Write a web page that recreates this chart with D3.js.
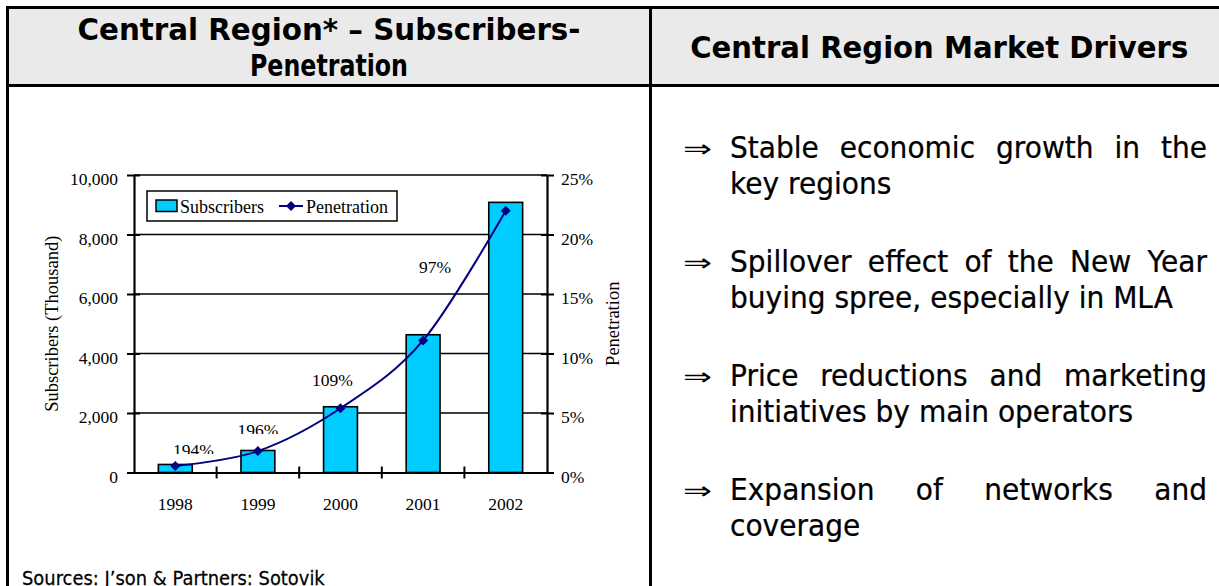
<!DOCTYPE html>
<html><head><meta charset="utf-8">
<script src="https://cdn.jsdelivr.net/npm/d3@7"></script>
<style>
html,body{margin:0;padding:0;background:#fff;overflow:hidden;}
svg{display:block;}
</style></head>
<body>
<svg id="c" width="1219" height="586"></svg>
<script>
// ---------- data ----------
const categories = ["1998", "1999", "2000", "2001", "2002"];
const subscribers = [270, 740, 2210, 4630, 9080];          // thousand
const penetration = [0.55, 1.8, 5.4, 11.1, 22.0];           // %
const growthLabels = ["194%", "196%", "109%", "97%"];
const growthAt = ["1998", "1999", "2000", "2001"];
const leftTicks = [0, 2000, 4000, 6000, 8000, 10000];
const rightTicks = [0, 5, 10, 15, 20, 25];
const leftHeader = ["Central Region* \u2013 Subscribers-", "Penetration"];
const rightHeader = "Central Region Market Drivers";
const bullets = [
  ["Stable economic growth in the", "key regions"],
  ["Spillover effect of the New Year", "buying spree, especially in MLA"],
  ["Price reductions and marketing", "initiatives by main operators"],
  ["Expansion of networks and", "coverage"]
];
const sourceText = "Sources: J\u2019son & Partners: Sotovik";

// ---------- layout ----------
const svg = d3.select("#c");
const W = 1219, H = 586;
const tbl = {left: 7.5, top: 7.5, divider: 650.5, headBottom: 85.5, right: 1228};
const plot = {left: 134, right: 547, top: 175, bottom: 472.5};
const serif = "'Liberation Serif','Times New Roman',serif";
const sans = "'DejaVu Sans',Verdana,sans-serif";

// header background
svg.append("rect").attr("x", tbl.left).attr("y", tbl.top)
  .attr("width", tbl.right - tbl.left).attr("height", tbl.headBottom - tbl.top)
  .attr("fill", "#eaeaea");

// table lines
const tl = svg.append("g").attr("stroke", "#000").attr("stroke-width", 3);
tl.append("line").attr("x1", tbl.left).attr("x2", tbl.right).attr("y1", tbl.top).attr("y2", tbl.top);
tl.append("line").attr("x1", tbl.left).attr("x2", tbl.right).attr("y1", tbl.headBottom).attr("y2", tbl.headBottom);
tl.append("line").attr("x1", tbl.left).attr("x2", tbl.left).attr("y1", tbl.top - 1.5).attr("y2", H + 5);
tl.append("line").attr("x1", tbl.divider).attr("x2", tbl.divider).attr("y1", tbl.top).attr("y2", H + 5);

function measure(txt, size, family, weight) {
  const t = svg.append("text").attr("font-size", size).attr("font-family", family)
    .attr("font-weight", weight || "normal").text(txt);
  const w = t.node().getComputedTextLength();
  t.remove();
  return w;
}

// headers
const headFs = 30;
function headerText(txt, cx, y, targetW) {
  svg.append("text").attr("x", cx).attr("y", y).attr("text-anchor", "middle")
    .attr("font-family", sans).attr("font-weight", "bold")
    .attr("font-size", headFs).attr("textLength", targetW).attr("lengthAdjust", "spacingAndGlyphs")
    .text(txt);
}
const leftCx = (tbl.left + tbl.divider) / 2;
const rightCx = (tbl.divider + tbl.right) / 2;
headerText(leftHeader[0], leftCx, 40, 503);
headerText(leftHeader[1], leftCx, 76, 158);
headerText(rightHeader, rightCx, 58, 498);

// ---------- chart ----------
const x = d3.scaleBand().domain(categories).range([plot.left, plot.right]).padding(0);
const y = d3.scaleLinear().domain([0, 10000]).range([plot.bottom, plot.top]);
const yR = d3.scaleLinear().domain([0, 25]).range([plot.bottom, plot.top]);
const barW = x.bandwidth() * 0.41;
const cx = c => x(c) + x.bandwidth() / 2;

const chart = svg.append("g");

// gridlines
chart.append("g").selectAll("line").data(leftTicks.filter(d => d > 0)).join("line")
  .attr("x1", plot.left).attr("x2", plot.right)
  .attr("y1", d => y(d)).attr("y2", d => y(d))
  .attr("stroke", "#000").attr("stroke-width", 1.5);

// bars
chart.append("g").selectAll("rect").data(categories).join("rect")
  .attr("x", (c) => cx(c) - barW / 2)
  .attr("y", (c, i) => y(subscribers[i]))
  .attr("width", barW)
  .attr("height", (c, i) => y(0) - y(subscribers[i]))
  .attr("fill", "#00ccff").attr("stroke", "#000").attr("stroke-width", 1.6);

// axes
const axL = d3.axisLeft(y).tickValues(leftTicks).tickFormat(d3.format(",")).tickSizeInner(7).tickSizeOuter(0).tickPadding(9);
const gL = chart.append("g").attr("transform", `translate(${plot.left},0)`).call(axL);
const axR = d3.axisRight(yR).tickValues(rightTicks).tickFormat(d => d + "%").tickSizeInner(7).tickSizeOuter(0).tickPadding(7);
const gR = chart.append("g").attr("transform", `translate(${plot.right},0)`).call(axR);
const axB = d3.axisBottom(x).tickSize(0).tickPadding(25);
const gB = chart.append("g").attr("transform", `translate(0,${plot.bottom})`).call(axB);

[gL, gR, gB].forEach(g => {
  g.select(".domain").attr("stroke", "#000").attr("stroke-width", 2.2);
  g.selectAll(".tick line").attr("stroke", "#000").attr("stroke-width", 2);
  g.selectAll("text").attr("font-family", serif).attr("font-size", 17.5).attr("fill", "#000");
});
gL.selectAll(".tick line").attr("x1", 6);
gR.selectAll(".tick line").attr("x1", -6);
gL.selectAll(".tick text").attr("dy", "0.55em");
gR.selectAll(".tick text").attr("dy", "0.55em");
chart.append("g").selectAll("line").data(categories.slice(1)).join("line")
  .attr("x1", c => x(c)).attr("x2", c => x(c))
  .attr("y1", plot.bottom - 6).attr("y2", plot.bottom + 6)
  .attr("stroke", "#000").attr("stroke-width", 2);

// axis titles
svg.append("text").attr("transform", `translate(58,${(plot.top + plot.bottom) / 2}) rotate(-90)`)
  .attr("text-anchor", "middle").attr("font-family", serif).attr("font-size", 18.5)
  .text("Subscribers (Thousand)");
svg.append("text").attr("transform", `translate(619,${(plot.top + plot.bottom) / 2}) rotate(-90)`)
  .attr("text-anchor", "middle").attr("font-family", serif).attr("font-size", 18.5)
  .text("Penetration");

// penetration line
const pts = categories.map((c, i) => [cx(c), yR(penetration[i])]);
chart.append("path").attr("d", d3.line().curve(d3.curveCardinal)(pts))
  .attr("fill", "none").attr("stroke", "#000080").attr("stroke-width", 2);
const diamond = d3.symbol(d3.symbolSquare, 50);
chart.append("g").selectAll("path").data(pts).join("path")
  .attr("d", diamond)
  .attr("transform", d => `translate(${d[0]},${d[1]}) rotate(45)`)
  .attr("fill", "#000080");

// growth labels (text boxes partly cut at the bottom, as in the source)
const lblOff = [{dx: 18, dy: -10, clip: true}, {dx: 0, dy: -15, clip: true}, {dx: -8, dy: -22}, {dx: 12, dy: -67}];
const defs = svg.append("defs");
growthLabels.forEach((t, i) => {
  const c = growthAt[i];
  const idx = categories.indexOf(c);
  const lx = cx(c) + lblOff[i].dx;
  const ly = yR(penetration[idx]) + lblOff[i].dy;
  const txt = chart.append("text").attr("x", lx).attr("y", ly).attr("text-anchor", "middle")
    .attr("font-family", serif).attr("font-size", 17.5).text(t);
  if (lblOff[i].clip) {
    const id = "clip" + i;
    defs.append("clipPath").attr("id", id).append("rect")
      .attr("x", lx - 40).attr("y", ly - 30).attr("width", 80).attr("height", 28);
    txt.attr("clip-path", `url(#${id})`);
  }
});

// legend
const lg = svg.append("g");
lg.append("rect").attr("x", 147).attr("y", 191).attr("width", 250).attr("height", 30)
  .attr("fill", "#fff").attr("stroke", "#000").attr("stroke-width", 1.5);
lg.append("rect").attr("x", 156).attr("y", 200).attr("width", 21).attr("height", 11.5)
  .attr("fill", "#00ccff").attr("stroke", "#000").attr("stroke-width", 1.5);
lg.append("text").attr("x", 180).attr("y", 212.5).attr("font-family", serif).attr("font-size", 18).text("Subscribers");
lg.append("line").attr("x1", 279).attr("x2", 303).attr("y1", 206).attr("y2", 206)
  .attr("stroke", "#000080").attr("stroke-width", 2);
lg.append("path").attr("d", diamond).attr("transform", "translate(291,206) rotate(45)").attr("fill", "#000080");
lg.append("text").attr("x", 306).attr("y", 212.5).attr("font-family", serif).attr("font-size", 18).text("Penetration");

// scaled sans text helper (Tahoma-like proportions from DejaVu Sans)
function sText(txt, x0, y0, size, sx) {
  svg.append("g").attr("transform", `translate(${x0},${y0}) scale(${sx},1)`)
    .append("text").attr("x", 0).attr("y", 0).attr("font-family", sans).attr("font-size", size)
    .attr("stroke", "#000").attr("stroke-width", 0.25).text(txt);
}

// source
const srcFs = 20;
const srcSx = 303 / measure(sourceText, srcFs, sans);
sText(sourceText, 22, 585, srcFs, srcSx);

// ---------- right panel bullets ----------
const textX = 730, textR = 1207, arrowX = 683;
const fs = 29.5;
const sx = 443 / measure(bullets[1][1], fs, sans);
const lineBase = [158, 272, 386, 500];
const lineGap = 35.5;
bullets.forEach((b, bi) => {
  const y0 = lineBase[bi];
  svg.append("text").attr("x", arrowX).attr("y", y0 - 1).attr("font-family", "'DejaVu Sans',sans-serif")
    .attr("font-size", 24).attr("textLength", 29).attr("lengthAdjust", "spacingAndGlyphs").text("\u21d2");
  const words = b[0].split(" ");
  const ws = words.map(w => measure(w, fs, sans) * sx);
  const gap = (textR - textX - d3.sum(ws)) / (words.length - 1);
  let xp = textX;
  words.forEach((w, i) => {
    sText(w, xp, y0, fs, sx);
    xp += ws[i] + gap;
  });
  sText(b[1], textX, y0 + lineGap, fs, sx);
});
</script>
</body></html>
